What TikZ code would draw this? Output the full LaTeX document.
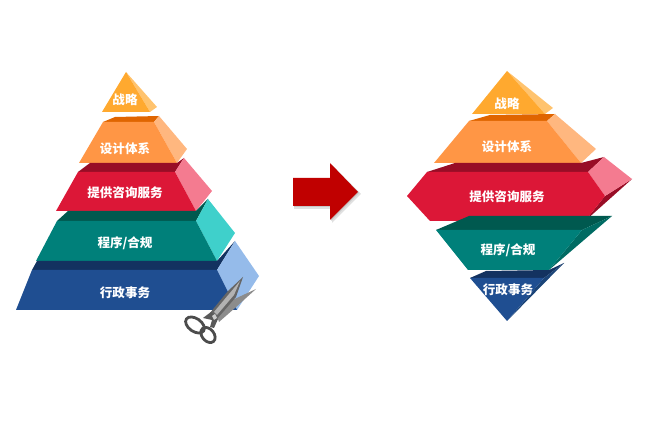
\documentclass[tikz,border=0pt]{standalone}
\usepackage{fontspec}
\newfontfamily\cjkfont{Noto Sans CJK SC}
\definecolor{gold}{HTML}{FFA92F}
\definecolor{goldside}{HTML}{FFC36E}
\definecolor{tangerine}{HTML}{FF9645}
\definecolor{tangerinetop}{HTML}{E06500}
\definecolor{tangerineside}{HTML}{FFB77F}
\definecolor{crimson}{HTML}{DC1737}
\definecolor{crimsontop}{HTML}{980D26}
\definecolor{crimsonside}{HTML}{F47B90}
\definecolor{teal}{HTML}{00807A}
\definecolor{tealtop}{HTML}{00594F}
\definecolor{tealside}{HTML}{3FD0CB}
\definecolor{tealunder}{HTML}{006B63}
\definecolor{navy}{HTML}{1F4E91}
\definecolor{navytop}{HTML}{133260}
\definecolor{navyside}{HTML}{95BBEA}
\definecolor{navyunder}{HTML}{1B4478}
\definecolor{arrowred}{HTML}{C00000}
\tikzset{tierlabel/.style={text=white, font=\cjkfont\bfseries\fontsize{9.4pt}{11pt}\selectfont, inner sep=0pt}}
\begin{document}
\begin{tikzpicture}[x=0.75pt, y=-0.75pt]
  \useasboundingbox (0, 0) rectangle (650, 423);

  % Whole pyramid
  \fill [goldside] (126, 72) -- (157, 107) -- (150, 112) -- cycle;
  \fill [gold] (126, 72) -- (150, 112) -- (102, 112) -- cycle;

  \fill [tangerinetop] (103, 122) -- (115, 117) -- (159, 116) -- (154, 122) -- cycle;
  \fill [tangerineside] (154, 122) -- (159, 116) -- (187, 149) -- (177, 163) -- cycle;
  \fill [tangerine] (103, 122) -- (154, 122) -- (177, 163) -- (79, 163) -- cycle;

  \fill [crimsontop] (78, 172) -- (90, 163) -- (177, 163) -- (184, 158) -- (175, 172) -- cycle;
  \fill [crimsonside] (175, 172) -- (184, 158) -- (212, 191) -- (196, 211) -- cycle;
  \fill [crimson] (78, 172) -- (175, 172) -- (196, 211) -- (56, 211) -- cycle;

  \fill [tealtop] (57, 221) -- (68, 211) -- (196, 211) -- (208, 199) -- (196, 221) -- cycle;
  \fill [tealside] (196, 221) -- (208, 199) -- (235, 233) -- (217, 261) -- cycle;
  \fill [teal] (57, 221) -- (196, 221) -- (217, 261) -- (36, 261) -- cycle;

  \fill [navytop] (32, 270) -- (37, 261) -- (217, 261) -- (235, 241) -- (217, 270) -- cycle;
  \fill [navyside] (217, 270) -- (235, 241) -- (259, 276) -- (237, 310) -- cycle;
  \fill [navy] (32, 270) -- (217, 270) -- (237, 310) -- (16, 310) -- cycle;

  % Scissors
  \fill [black!45] (217, 316) -- (226, 303) -- (256, 289) -- (235, 308) -- (219, 322) -- cycle;
  \fill [black!60] (210, 313) -- (228, 291) -- (243, 277) -- (236, 297) -- (217, 319) -- cycle;
  \fill [black!30] (214, 312) -- (229, 294) -- (240, 281) -- (234, 295) -- (217, 315) -- cycle;
  \draw [black!70, line width=2.1pt, rotate around={-35:(195, 325)}] (195, 325) ellipse [x radius=10.5, y radius=6.5];
  \draw [black!70, line width=2.1pt, rotate around={-50:(208, 335)}] (208, 335) ellipse [x radius=8.5, y radius=6];
  \fill [black!65] (203, 318) -- (211, 312) -- (218, 319) -- (214, 328) -- (210, 327) -- (212, 320) -- cycle;
  \fill [black!20] (212, 316) -- (215, 314) -- (217, 318) -- (214, 320) -- cycle;

  % Arrow
  \fill [black!12] (294, 180) -- (332, 180) -- (332, 165) -- (361, 194) -- (332, 223) -- (332, 209) -- (294, 209) -- cycle;
  \fill [black!22] (294, 179) -- (331, 179) -- (331, 164) -- (359, 193) -- (331, 221) -- (331, 207) -- (294, 207) -- cycle;
  \fill [arrowred] (293, 178) -- (330, 178) -- (330, 163) -- (358, 192) -- (330, 220) -- (330, 206) -- (293, 206) -- cycle;

  % Cut pyramid
  \fill [goldside] (507, 71) -- (553, 108) -- (545, 114) -- cycle;
  \fill [gold] (507, 71) -- (545, 114) -- (472, 114) -- cycle;

  \fill [tangerinetop] (469, 121) -- (490, 115) -- (555, 114) -- (547, 121) -- cycle;
  \fill [tangerineside] (547, 121) -- (555, 114) -- (596, 149) -- (581, 163) -- cycle;
  \fill [tangerine] (469, 121) -- (547, 121) -- (581, 163) -- (434, 163) -- cycle;

  \fill [crimsontop] (427, 172) -- (455, 163) -- (581, 163) -- (604, 157) -- (588, 172) -- cycle;
  \fill [crimsontop] (605, 196) -- (632, 179) -- (585, 221) -- cycle;
  \fill [crimsonside] (588, 172) -- (604, 157) -- (632, 179) -- (605, 196) -- cycle;
  \fill [crimson] (407, 196) -- (427, 172) -- (588, 172) -- (605, 196) -- (585, 221) -- (430, 221) -- cycle;

  \fill [tealtop] (436, 230) -- (469, 216) -- (612, 216) -- (582, 230) -- cycle;
  \fill [tealunder] (582, 230) -- (612, 216) -- (549, 270) -- cycle;
  \fill [teal] (436, 230) -- (582, 230) -- (549, 270) -- (468, 270) -- cycle;

  \fill [navytop] (470, 278) -- (486, 271) -- (549, 270) -- (564, 263) -- (544, 278) -- cycle;
  \fill [navyunder] (544, 278) -- (564, 263) -- (507, 321) -- cycle;
  \fill [navy] (470, 278) -- (544, 278) -- (507, 321) -- cycle;

  % Labels
  \node [tierlabel] (strategyA) at (125, 100) {战略};
  \node [tierlabel] (designA) at (125, 149) {设计体系};
  \node [tierlabel] (adviceA) at (125, 193) {提供咨询服务};
  \node [tierlabel] (processA) at (125, 243) {程序/合规};
  \node [tierlabel] (adminA) at (125, 293) {行政事务};

  \node [tierlabel] (strategyB) at (507, 104) {战略};
  \node [tierlabel] (designB) at (507, 147) {设计体系};
  \node [tierlabel] (adviceB) at (507, 197) {提供咨询服务};
  \node [tierlabel] (processB) at (508, 250) {程序/合规};
  \node [tierlabel] (adminB) at (508, 290) {行政事务};
\end{tikzpicture}
\end{document}
